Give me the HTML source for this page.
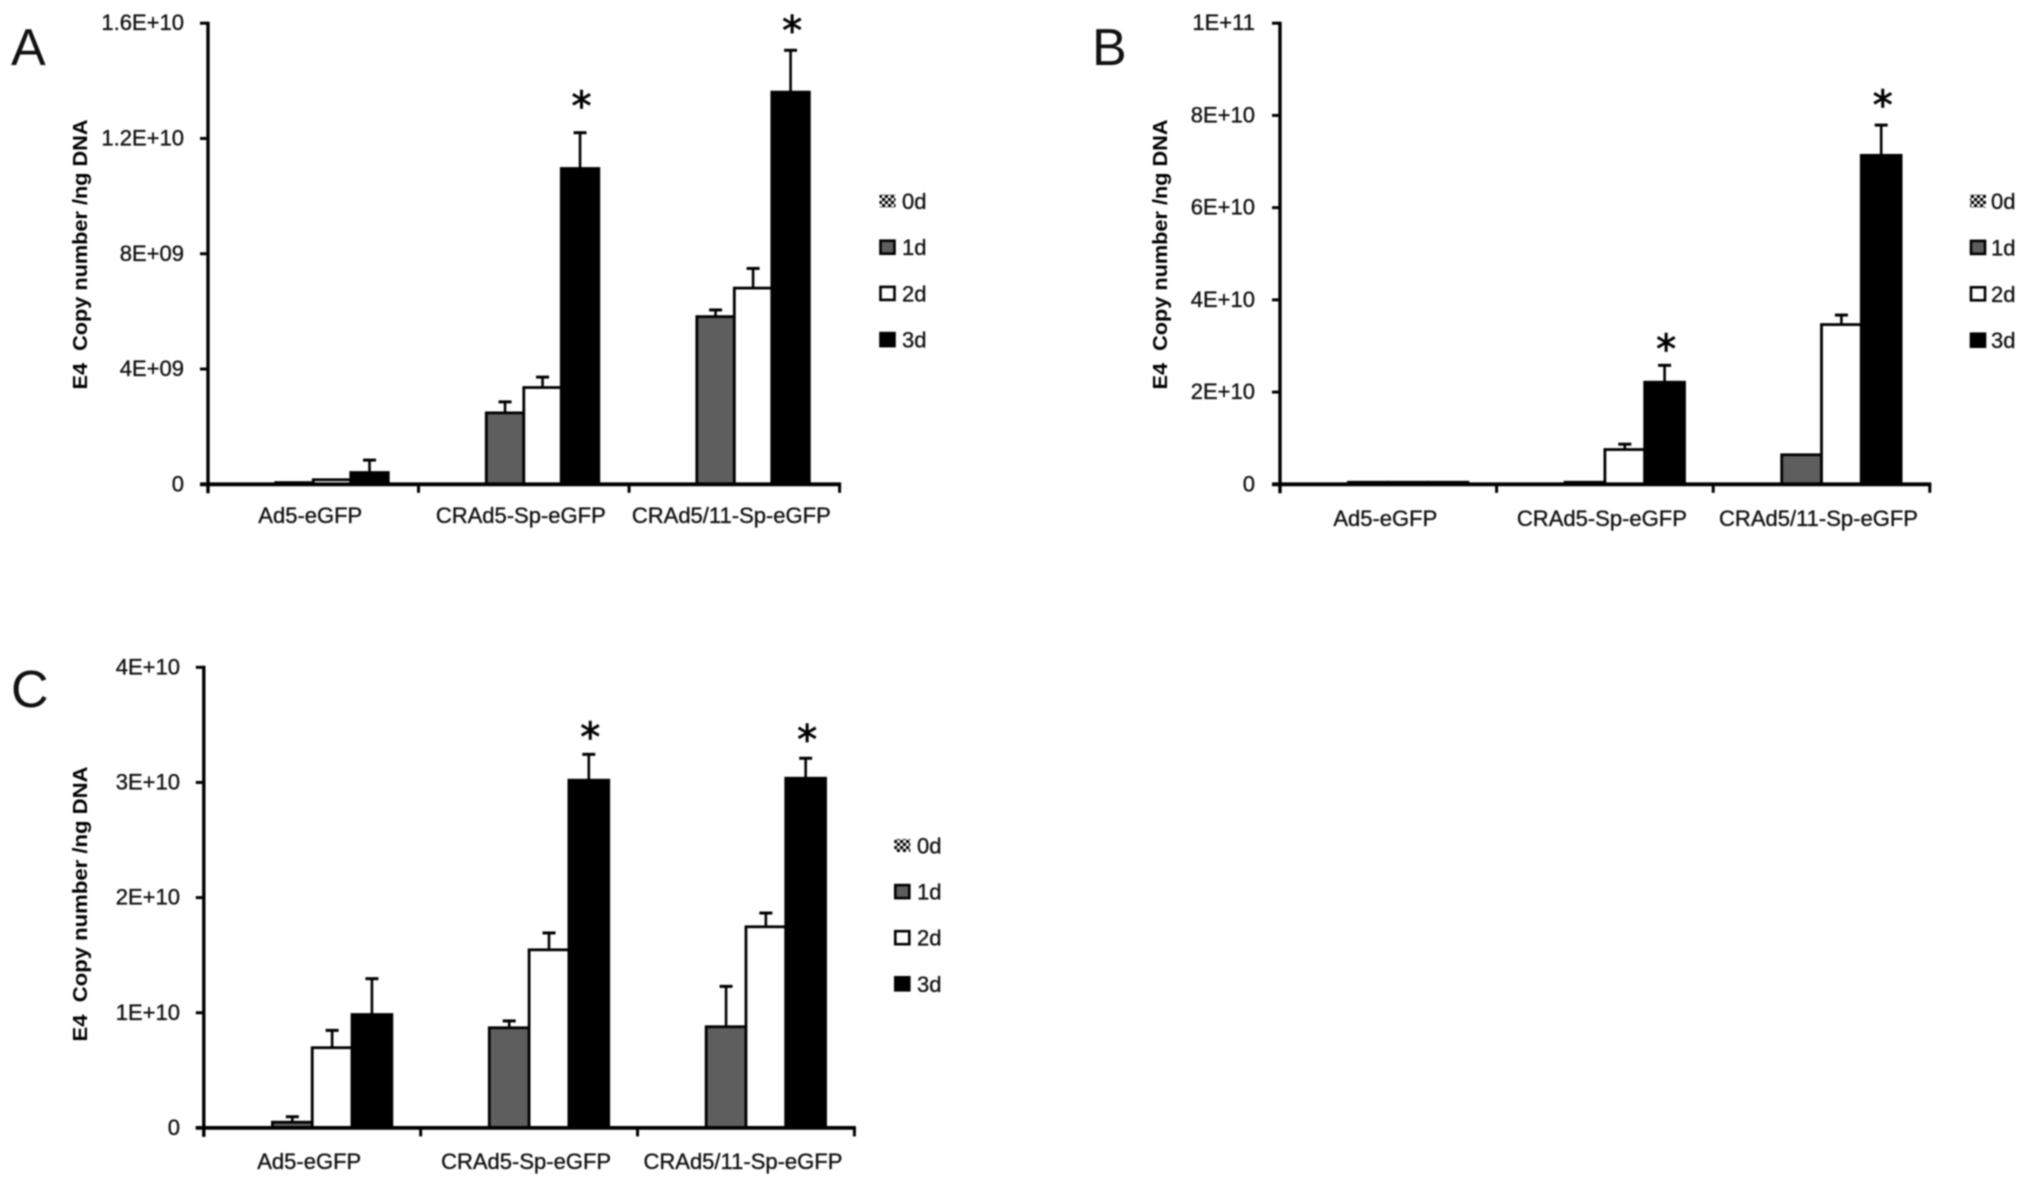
<!DOCTYPE html>
<html lang="en">
<head>
<meta charset="utf-8">
<title>E4 copy number bar charts</title>
<style>
  html, body { margin: 0; padding: 0; background: #fff; }
  #figure { display: block; width: 2031px; height: 1188px; filter: blur(0.7px); }
  text { font-family: "Liberation Sans", Arial, sans-serif; fill: #111; }
  .tick-label { font-size: 22px; stroke: #111; stroke-width: 0.35px; }
  .cat-label { font-size: 22px; stroke: #111; stroke-width: 0.35px; }
  .legend-label { font-size: 22px; stroke: #111; stroke-width: 0.35px; }
  .axis-title { font-size: 20px; font-weight: bold; fill: #000; }
  .panel-letter { font-size: 52px; fill: #111; }
  .star { font-family: "DejaVu Sans", sans-serif; font-size: 40px; fill: #000; stroke: #000; stroke-width: 0.8px; }
</style>
</head>
<body>
<svg id="figure" xmlns="http://www.w3.org/2000/svg" width="2031" height="1188" viewBox="0 0 2031 1188">
  <defs>
    <pattern id="dots" width="6" height="6" patternUnits="userSpaceOnUse">
      <rect width="6" height="6" fill="#fff"></rect>
      <circle cx="1.5" cy="1.5" r="1.8" fill="#000"></circle>
      <circle cx="4.5" cy="4.5" r="1.8" fill="#000"></circle>
    </pattern>
  </defs>
  <rect width="2031" height="1188" fill="#fff"></rect>

  <text class="panel-letter" x="11" y="65">A</text>
  <text class="panel-letter" x="1092" y="65">B</text>
  <text class="panel-letter" x="11" y="707">C</text>

  <text class="axis-title" transform="translate(87 254.5) rotate(-90)" text-anchor="middle" textLength="270" lengthAdjust="spacingAndGlyphs">E4&#160; Copy number /ng DNA</text>
  <text class="axis-title" transform="translate(1167 254.5) rotate(-90)" text-anchor="middle" textLength="270" lengthAdjust="spacingAndGlyphs">E4&#160; Copy number /ng DNA</text>
  <text class="axis-title" transform="translate(87 904) rotate(-90)" text-anchor="middle" textLength="275" lengthAdjust="spacingAndGlyphs">E4&#160; Copy number /ng DNA</text>

  <g id="panel-a"></g>
  <g id="panel-b"></g>
  <g id="panel-c"></g>
</svg>

<script>
/* ---------- shared data ---------- */
const categories = ['Ad5-eGFP', 'CRAd5-Sp-eGFP', 'CRAd5/11-Sp-eGFP'];
const seriesNames = ['0d', '1d', '2d', '3d'];

/* ---------- panel A ---------- */
const panelATickValues = [0, 4e9, 8e9, 1.2e10, 1.6e10];
const panelATickLabels = ['0', '4E+09', '8E+09', '1.2E+10', '1.6E+10'];
const panelAValues0d = [0, 0, 0];
const panelAValues1d = [1.0e8, 2.52e9, 5.86e9];
const panelAValues2d = [2.0e8, 3.40e9, 6.85e9];
const panelAValues3d = [4.5e8, 1.10e10, 1.365e10];
const panelAErrors1d = [0, 3.4e8, 1.9e8];
const panelAErrors2d = [0, 3.2e8, 6.4e8];
const panelAErrors3d = [3.9e8, 1.2e9, 1.41e9];
const panelAStars = [false, true, true];

/* ---------- panel B ---------- */
const panelBTickValues = [0, 2e10, 4e10, 6e10, 8e10, 1e11];
const panelBTickLabels = ['0', '2E+10', '4E+10', '6E+10', '8E+10', '1E+11'];
const panelBValues0d = [0, 0, 0];
const panelBValues1d = [7e8, 7e8, 6.66e9];
const panelBValues2d = [7e8, 7.8e9, 3.49e10];
const panelBValues3d = [7e8, 2.24e10, 7.16e10];
const panelBErrors1d = [0, 0, 0];
const panelBErrors2d = [0, 9e8, 1.8e9];
const panelBErrors3d = [0, 3.4e9, 6.3e9];
const panelBStars = [false, true, true];

/* ---------- panel C ---------- */
const panelCTickValues = [0, 1e10, 2e10, 3e10, 4e10];
const panelCTickLabels = ['0', '1E+10', '2E+10', '3E+10', '4E+10'];
const panelCValues0d = [0, 0, 0];
const panelCValues1d = [6e8, 8.8e9, 8.89e9];
const panelCValues2d = [7.07e9, 1.557e10, 1.757e10];
const panelCValues3d = [9.95e9, 3.03e10, 3.047e10];
const panelCErrors1d = [3.7e8, 4.9e8, 3.4e9];
const panelCErrors2d = [1.4e9, 1.36e9, 1.09e9];
const panelCErrors3d = [3.01e9, 2.14e9, 1.63e9];
const panelCStars = [false, true, true];

/* ---------- layout (geometry only) ---------- */
const SVG_NS = 'http://www.w3.org/2000/svg';
const panels = [
  { id: 'panel-a', prefix: 'panel-a', left: 208, right: 839.6, base: 484.3, top: 23.2, barW: 37.5, labelRight: 184, catY: 523,
    legendX: 879.5, legendY: 201, legendStep: 46.2, legendTextX: 902, starGap: [0, 31.5, 25],
    ticks: panelATickValues, tickLabels: panelATickLabels,
    values: [panelAValues0d, panelAValues1d, panelAValues2d, panelAValues3d],
    errors: [null, panelAErrors1d, panelAErrors2d, panelAErrors3d], stars: panelAStars },
  { id: 'panel-b', prefix: 'panel-b', left: 1280, right: 1929.8, base: 484.3, top: 23.2, barW: 39.8, labelRight: 1255, catY: 526,
    legendX: 1970, legendY: 201, legendStep: 46.4, legendTextX: 1991, starGap: [0, 21.5, 25],
    ticks: panelBTickValues, tickLabels: panelBTickLabels,
    values: [panelBValues0d, panelBValues1d, panelBValues2d, panelBValues3d],
    errors: [null, panelBErrors1d, panelBErrors2d, panelBErrors3d], stars: panelBStars },
  { id: 'panel-c', prefix: 'panel-c', left: 203.8, right: 854.4, base: 1127.9, top: 667.3, barW: 39.8, labelRight: 180, catY: 1169,
    legendX: 894.3, legendY: 845.5, legendStep: 46.1, legendTextX: 917, starGap: [0, 22.5, 24],
    ticks: panelCTickValues, tickLabels: panelCTickLabels,
    values: [panelCValues0d, panelCValues1d, panelCValues2d, panelCValues3d],
    errors: [null, panelCErrors1d, panelCErrors2d, panelCErrors3d], stars: panelCStars }
];
const seriesFills = ['url(#dots)', '#5e5e5e', '#ffffff', '#000000'];
const STROKE_INSET = 1.2;
const CAT_LABEL_SHIFT = -3;
const STAR_SHIFT = 1.5;

function make(tag, attrs) {
  const el = document.createElementNS(SVG_NS, tag);
  for (const key in attrs) el.setAttribute(key, attrs[key]);
  return el;
}

function yScale(p, v) {
  const maxTick = p.ticks[p.ticks.length - 1];
  return p.base - (v / maxTick) * (p.base - p.top);
}
function catWidth(p) {
  return (p.right - p.left) / categories.length;
}
function catCenter(p, c) {
  return p.left + catWidth(p) * (c + 0.5);
}
function barLeft(p, c, s) {
  return catCenter(p, c) + (s - seriesNames.length / 2) * p.barW;
}

function drawPanel(p) {
  const g = document.getElementById(p.id);

  /* error bars, drawn first so bars sit on top */
  p.errors.forEach(function (errs, s) {
    if (!errs) return;
    errs.forEach(function (err, c) {
      if (!err) return;
      const cx = barLeft(p, c, s) + p.barW / 2;
      const yA = yScale(p, p.values[s][c]);
      const yB = yScale(p, p.values[s][c] + err);
      const stem = make('line', { x1: cx, x2: cx, y1: yA + STROKE_INSET, y2: yB, stroke: '#000', 'stroke-width': 2.6 });
      
      
      g.appendChild(stem);
      const cap = make('line', { x1: cx - 6.5, x2: cx + 6.5, y1: yB, y2: yB, stroke: '#000', 'stroke-width': 3 });
      
      
      g.appendChild(cap);
    });
  });

  /* bars */
  p.values.forEach(function (vals, s) {
    vals.forEach(function (v, c) {
      if (v <= 0) return;
      const y = yScale(p, v) + STROKE_INSET;
      const bar = make('rect', {
        x: barLeft(p, c, s), y: y, width: p.barW, height: Math.max(0, p.base - y),
        fill: seriesFills[s], stroke: '#000', 'stroke-width': 2.8
      });
      
      
      g.appendChild(bar);
    });
  });

  /* axes */
  const yAxis = make('line', { x1: p.left, x2: p.left, y1: p.top - 1.5, y2: p.base + 9, stroke: '#000', 'stroke-width': 3.4 });
  
  
  g.appendChild(yAxis);

  const xAxis = make('line', { x1: p.left - 8, x2: p.right + 1.5, y1: p.base, y2: p.base, stroke: '#000', 'stroke-width': 3.8 });
  
  
  g.appendChild(xAxis);

  /* y ticks and labels */
  p.ticks.forEach(function (t, i) {
    const y = yScale(p, t);
    const mark = make('line', { x1: p.left - 8, x2: p.left, y1: y, y2: y, stroke: '#000', 'stroke-width': 3 });
    
    
    g.appendChild(mark);
    const lab = make('text', { x: p.labelRight, y: y + 7, 'text-anchor': 'end', class: 'tick-label' });
    
    
    lab.textContent = p.tickLabels[i];
    g.appendChild(lab);
  });

  /* x ticks */
  for (let i = 1; i <= categories.length; i++) {
    const x = p.left + catWidth(p) * i;
    const mark = make('line', { x1: x, x2: x, y1: p.base, y2: p.base + 8.5, stroke: '#000', 'stroke-width': 3 });
    
    
    g.appendChild(mark);
  }

  /* category labels */
  categories.forEach(function (name, c) {
    const lab = make('text', { x: catCenter(p, c) + CAT_LABEL_SHIFT, y: p.catY, 'text-anchor': 'middle', class: 'cat-label' });
    
    
    lab.textContent = name;
    g.appendChild(lab);
  });

  /* significance stars, above the 3d bar's error bar */
  p.stars.forEach(function (on, c) {
    if (!on) return;
    const s = seriesNames.length - 1;
    const cx = barLeft(p, c, s) + p.barW / 2 + STAR_SHIFT;
    const errTop = yScale(p, p.values[s][c] + p.errors[s][c]);
    const star = make('text', { x: cx, y: errTop - p.starGap[c] + 19, 'text-anchor': 'middle', class: 'star' });
    
    
    star.textContent = '*';
    g.appendChild(star);
  });

  /* legend */
  seriesNames.forEach(function (name, s) {
    const cy = p.legendY + s * p.legendStep;
    const box = make('rect', s === 0
      ? { x: p.legendX, y: cy - 6.5, width: 16, height: 13, fill: seriesFills[s] }
      : { x: p.legendX + 1, y: cy - 6.5, width: 14, height: 13, fill: seriesFills[s], stroke: '#000', 'stroke-width': 2.6 });
    
    
    g.appendChild(box);
    const lab = make('text', { x: p.legendTextX, y: cy + 8, class: 'legend-label' });
    
    
    lab.textContent = name;
    g.appendChild(lab);
  });
}

panels.forEach(drawPanel);
</script>
</body>
</html>
